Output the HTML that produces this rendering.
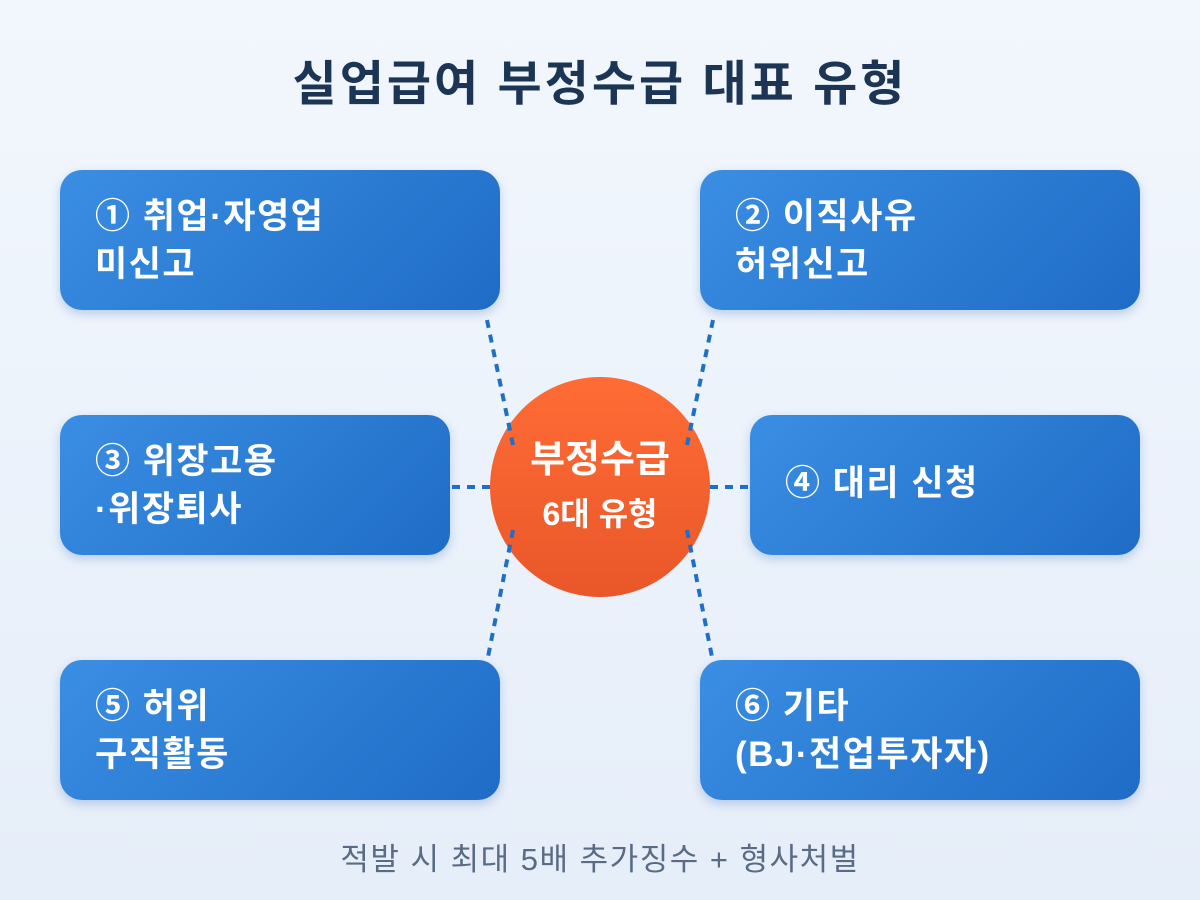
<!DOCTYPE html>
<html><head><meta charset="utf-8"><style>
body{margin:0;width:1200px;height:900px;overflow:hidden;background:linear-gradient(180deg,#f2f7fd,#e6eef9);font-family:"Liberation Sans","Noto Sans CJK KR",sans-serif;position:relative}
.t{position:absolute;left:0;width:1200px;text-align:center;top:44px;font-size:48px;font-weight:bold;color:#1c3554;letter-spacing:3px}
.b{position:absolute;height:140px;border-radius:22px;background:linear-gradient(135deg,#3a8ee3,#1f6cc6);box-shadow:0 4px 10px rgba(30,90,170,.25);color:#fff;font-weight:bold;font-size:35px;letter-spacing:1.5px;line-height:48px;box-sizing:border-box;padding:23px 0 0 35px}
.f{position:absolute;left:0;width:1200px;text-align:center;top:834px;font-size:31px;letter-spacing:1.5px;color:#5a6b85}
svg{position:absolute;left:0;top:0}
</style></head><body>
<div class="t">실업급여 부정수급 대표 유형</div>
<div class="b" style="left:60px;top:170px;width:440px">① 취업·자영업<br>미신고</div>
<div class="b" style="left:700px;top:170px;width:440px">② 이직사유<br>허위신고</div>
<div class="b" style="left:60px;top:415px;width:390px">③ 위장고용<br>·위장퇴사</div>
<div class="b" style="left:750px;top:415px;width:390px;padding-top:45px">④ 대리 신청</div>
<div class="b" style="left:60px;top:660px;width:440px">⑤ 허위<br>구직활동</div>
<div class="b" style="left:700px;top:660px;width:440px">⑥ 기타<br>(BJ·전업투자자)</div>
<svg width="1200" height="900">
<defs><linearGradient id="g" x1="0" y1="0" x2="0" y2="1"><stop offset="0" stop-color="#ff6c35"/><stop offset="1" stop-color="#e9572a"/></linearGradient></defs>
<circle cx="600" cy="487" r="110" fill="url(#g)"/>
<g stroke="#1f6fc5" stroke-width="4" stroke-dasharray="8 7" fill="none">
<line x1="487" y1="320" x2="513" y2="445"/>
<line x1="713" y1="320" x2="687" y2="445"/>
<line x1="452" y1="487" x2="492" y2="487"/>
<line x1="710" y1="487" x2="750" y2="487"/>
<line x1="513" y1="530" x2="488" y2="657"/>
<line x1="687" y1="530" x2="712" y2="657"/>
</g>
<text x="600" y="472" text-anchor="middle" fill="#fff" font-size="38" font-weight="bold" font-family="Liberation Sans, Noto Sans CJK KR, sans-serif">부정수급</text>
<text x="600" y="525" text-anchor="middle" fill="#fff" font-size="32" font-weight="bold" font-family="Liberation Sans, Noto Sans CJK KR, sans-serif">6대 유형</text>
</svg>
<div class="f">적발 시 최대 5배 추가징수 + 형사처벌</div>
</body></html>
